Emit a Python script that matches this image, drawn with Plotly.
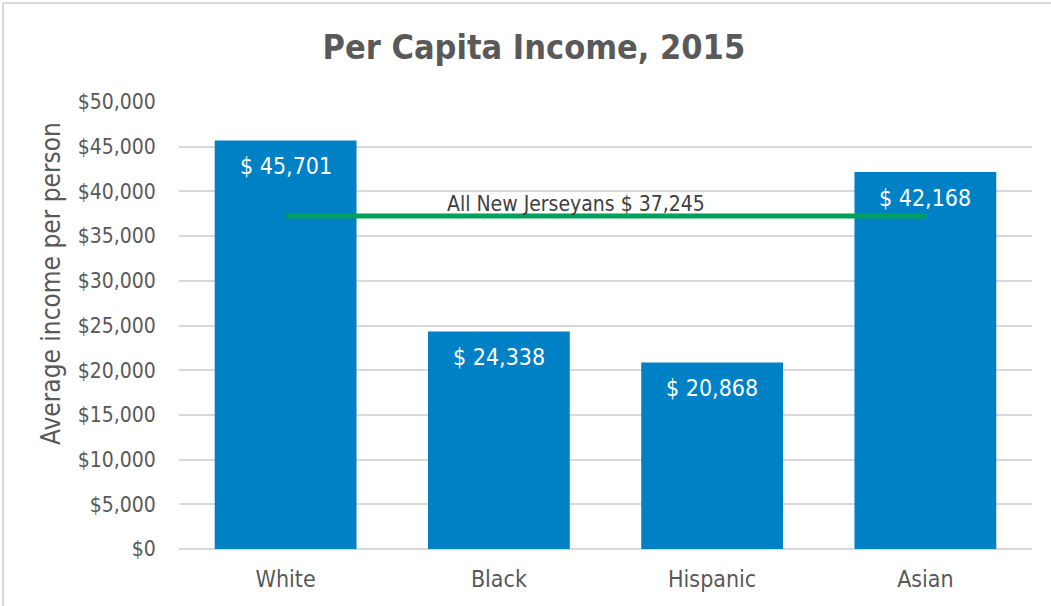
import plotly.graph_objects as go

categories = ["White", "Black", "Hispanic", "Asian"]
values = [45701, 24338, 20868, 42168]
bar_labels = ["$ 45,701", "$ 24,338", "$ 20,868", "$ 42,168"]
avg_value = 37245
avg_label = "All New Jerseyans $ 37,245"
tick_vals = list(range(0, 50001, 5000))
tick_text = ["${:,}".format(v) for v in tick_vals]

W, H = 1051, 606
L, R, T, B = 179, 19, 102, 57
pw, ph = W - L - R, H - T - B

FONT = "DejaVu Sans Condensed, Liberation Sans Narrow, sans-serif"
GRAY = "#595959"

fig = go.Figure()
fig.add_trace(go.Bar(
    x=categories, y=values, marker=dict(color="#0081C6", line=dict(width=0)),
    width=0.665, hoverinfo="skip",
))
fig.add_trace(go.Scatter(
    x=[categories[0], categories[-1]], y=[avg_value, avg_value], mode="lines",
    line=dict(color="#00A05C", width=5), hoverinfo="skip",
))


def px_x(p):
    return (p - L) / pw


def px_y(p):
    return 1 - (p - T) / ph


annotations = []
for c, v, t in zip(categories, values, bar_labels):
    annotations.append(dict(x=c, y=v, text=t, showarrow=False, yanchor="top",
                            yshift=-11, font=dict(size=23, color="white", family=FONT)))
annotations.append(dict(x=1.36, y=avg_value, text=avg_label, showarrow=False,
                        yanchor="bottom", yshift=-2,
                        font=dict(size=21, color="#404040", family=FONT)))
annotations.append(dict(xref="paper", yref="paper", x=px_x(51), y=px_y(284),
                        xanchor="center", yanchor="middle", textangle=-90,
                        text="Average income per person", showarrow=False,
                        font=dict(size=26, color=GRAY, family=FONT)))

fig.update_layout(
    width=W, height=H,
    margin=dict(l=L, r=R, t=T, b=B, autoexpand=False),
    paper_bgcolor="white", plot_bgcolor="white",
    showlegend=False,
    title=dict(text="<b>Per Capita Income, 2015</b>", x=0.508, xanchor="center",
               y=1 - 47 / H, yanchor="middle",
               font=dict(size=34, color=GRAY, family=FONT)),
    xaxis=dict(showgrid=False, showline=False, zeroline=False,
               ticks="outside", ticklen=9, tickcolor="rgba(0,0,0,0)",
               tickfont=dict(size=23, color=GRAY, family=FONT)),
    yaxis=dict(range=[0, 50000], tickvals=tick_vals, ticktext=tick_text,
               showgrid=True, gridcolor="#D9D9D9", gridwidth=1.5,
               zeroline=True, zerolinecolor="#D9D9D9", zerolinewidth=1.5,
               ticks="outside", ticklen=18, tickcolor="rgba(0,0,0,0)",
               tickfont=dict(size=21, color=GRAY, family=FONT)),
    annotations=annotations,
    shapes=[dict(type="rect", xref="paper", yref="paper",
                 x0=px_x(3), x1=px_x(1065), y0=px_y(620), y1=px_y(3),
                 line=dict(color="#D9D9D9", width=2), layer="below")],
)

fig.write_html("out.html", config={"displayModeBar": False},
               post_script="document.body.style.margin='0';")
